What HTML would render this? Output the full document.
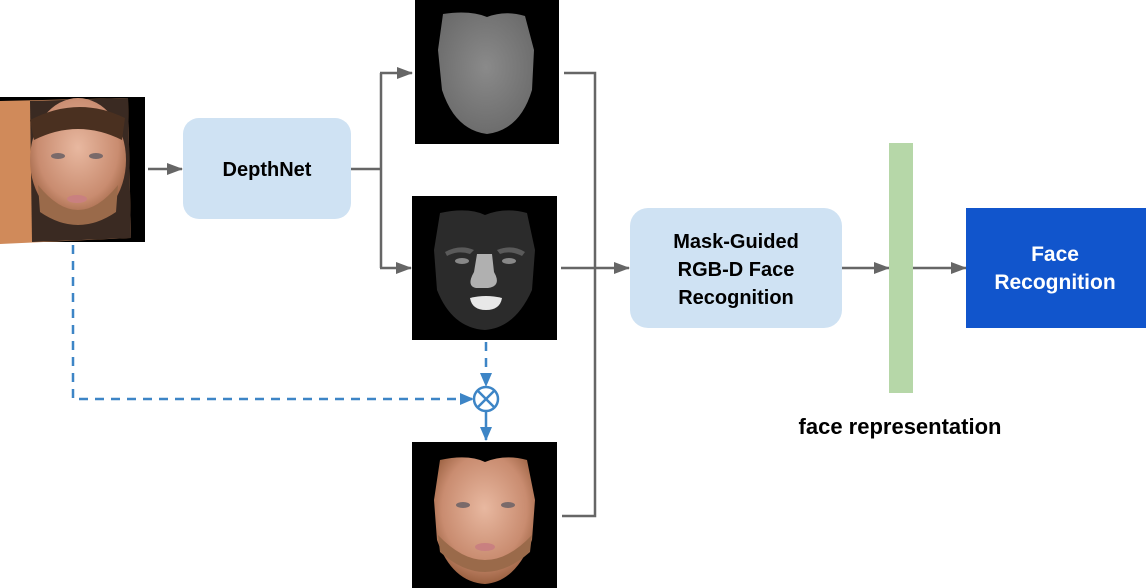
<!DOCTYPE html>
<html><head><meta charset="utf-8"><style>
html,body{margin:0;padding:0;background:#fff;}
svg{display:block;}
text{font-family:"Liberation Sans",Arial,sans-serif;font-weight:bold;}
</style></head><body>
<svg width="1146" height="588" viewBox="0 0 1146 588" xmlns="http://www.w3.org/2000/svg">
<defs>
<marker id="ag" markerWidth="16" markerHeight="14" refX="15" refY="7" orient="auto" markerUnits="userSpaceOnUse"><path d="M0,1 L16,7 L0,13 z" fill="#666"/></marker>
<marker id="ab" markerWidth="14" markerHeight="14" refX="13" refY="7" orient="auto" markerUnits="userSpaceOnUse"><path d="M0,1 L14,7 L0,13 z" fill="#3d85c6"/></marker>
<radialGradient id="dg" cx="0.5" cy="0.45" r="0.6"><stop offset="0" stop-color="#8a8a8a"/><stop offset="1" stop-color="#6a6a6a"/></radialGradient>
<radialGradient id="skin" cx="0.5" cy="0.4" r="0.6"><stop offset="0" stop-color="#e8b8a0"/><stop offset="0.7" stop-color="#c98c70"/><stop offset="1" stop-color="#9a6040"/></radialGradient>
</defs>

<rect x="0" y="97" width="145" height="145" fill="#000"/>
<polygon points="0,101 128,98 131,238 0,244" fill="#d08a5a"/>
<polygon points="30,101 128,98 131,238 32,242" fill="#3a2a22"/>
<ellipse cx="78" cy="160" rx="48" ry="62" fill="url(#skin)"/>
<path d="M30,120 Q78,95 125,118 L122,140 Q78,118 34,140 z" fill="#4a3020"/>
<path d="M38,185 Q78,235 118,185 L116,212 Q78,238 40,212 z" fill="#9a6a4a"/>
<ellipse cx="58" cy="156" rx="7" ry="3" fill="#7a6a6a"/>
<ellipse cx="96" cy="156" rx="7" ry="3" fill="#7a6a6a"/>
<ellipse cx="77" cy="199" rx="10" ry="4" fill="#c98080"/>

<line x1="148" y1="169" x2="182" y2="169" stroke="#666" stroke-width="2.5" marker-end="url(#ag)"/>
<rect x="183" y="118" width="168" height="101" rx="16" fill="#cfe2f3"/>
<text x="267" y="176" font-size="20" text-anchor="middle" fill="#000">DepthNet</text>

<polyline points="351,169 381,169" fill="none" stroke="#666" stroke-width="2.5"/>
<polyline points="381,73 381,268" fill="none" stroke="#666" stroke-width="2.5"/>
<line x1="380" y1="73" x2="412" y2="73" stroke="#666" stroke-width="2.5" marker-end="url(#ag)"/>
<line x1="380" y1="268" x2="411" y2="268" stroke="#666" stroke-width="2.5" marker-end="url(#ag)"/>

<rect x="415" y="0" width="144" height="144" fill="#000"/>
<path d="M443,14 Q470,10 487,17 Q505,10 525,16 L534,50 L532,90 Q520,130 487,134 Q455,130 442,90 L438,50 z" fill="url(#dg)"/>

<rect x="412" y="196" width="145" height="144" fill="#000"/>
<path d="M440,213 Q468,207 485,215 Q505,207 527,213 L535,250 L532,290 Q515,328 485,330 Q452,328 437,290 L434,250 z" fill="#2b2b2b"/>
<path d="M445,252 Q460,244 474,250 L470,254 Q458,250 447,256 z" fill="#5a5a5a"/>
<path d="M497,250 Q512,244 525,252 L522,256 Q510,250 500,254 z" fill="#5a5a5a"/>
<ellipse cx="462" cy="261" rx="7" ry="3" fill="#888"/>
<ellipse cx="509" cy="261" rx="7" ry="3" fill="#888"/>
<path d="M477,254 L492,254 L494,272 Q502,286 488,288 L476,288 Q466,286 474,272 z" fill="#b0b0b0"/>
<path d="M470,298 Q486,294 502,298 Q500,310 486,310 Q472,310 470,298 z" fill="#e8e8e8"/>

<rect x="412" y="442" width="145" height="146" fill="#000"/>
<path d="M440,460 Q468,454 485,462 Q505,454 527,460 L535,500 L532,540 Q515,582 485,584 Q452,582 437,540 L434,500 z" fill="url(#skin)"/>
<path d="M438,535 Q485,585 532,535 L530,552 Q485,592 440,552 z" fill="#9a6a4a"/>
<ellipse cx="463" cy="505" rx="7" ry="3" fill="#7a6a6a"/>
<ellipse cx="508" cy="505" rx="7" ry="3" fill="#7a6a6a"/>
<ellipse cx="485" cy="547" rx="10" ry="4" fill="#c98080"/>

<polyline points="564,73 595,73 595,516 562,516" fill="none" stroke="#666" stroke-width="2.5"/>
<line x1="561" y1="268" x2="629" y2="268" stroke="#666" stroke-width="2.5" marker-end="url(#ag)"/>

<polyline points="73,245 73,399 473,399" fill="none" stroke="#3d85c6" stroke-width="2.5" stroke-dasharray="9,7" marker-end="url(#ab)"/>
<line x1="486" y1="342" x2="486" y2="386" stroke="#3d85c6" stroke-width="2.5" stroke-dasharray="9,7" marker-end="url(#ab)"/>
<line x1="486" y1="412" x2="486" y2="440" stroke="#3d85c6" stroke-width="2.5" marker-end="url(#ab)"/>
<circle cx="486" cy="399" r="12" fill="#fff" stroke="#3d85c6" stroke-width="2.5"/>
<line x1="477.5" y1="390.5" x2="494.5" y2="407.5" stroke="#3d85c6" stroke-width="2.5"/>
<line x1="494.5" y1="390.5" x2="477.5" y2="407.5" stroke="#3d85c6" stroke-width="2.5"/>

<rect x="630" y="208" width="212" height="120" rx="18" fill="#cfe2f3"/>
<text x="736" y="248" font-size="20" text-anchor="middle" fill="#000">Mask-Guided</text>
<text x="736" y="276" font-size="20" text-anchor="middle" fill="#000">RGB-D Face</text>
<text x="736" y="304" font-size="20" text-anchor="middle" fill="#000">Recognition</text>

<line x1="842" y1="268" x2="889" y2="268" stroke="#666" stroke-width="2.5" marker-end="url(#ag)"/>
<rect x="889" y="143" width="24" height="250" fill="#b6d7a8"/>
<line x1="913" y1="268" x2="966" y2="268" stroke="#666" stroke-width="2.5" marker-end="url(#ag)"/>

<rect x="966" y="208" width="180" height="120" fill="#1155cc"/>
<text x="1055" y="261" font-size="21" text-anchor="middle" fill="#fff">Face</text>
<text x="1055" y="289" font-size="21" text-anchor="middle" fill="#fff">Recognition</text>

<text x="900" y="434" font-size="22" text-anchor="middle" fill="#000">face representation</text>
</svg>
</body></html>
